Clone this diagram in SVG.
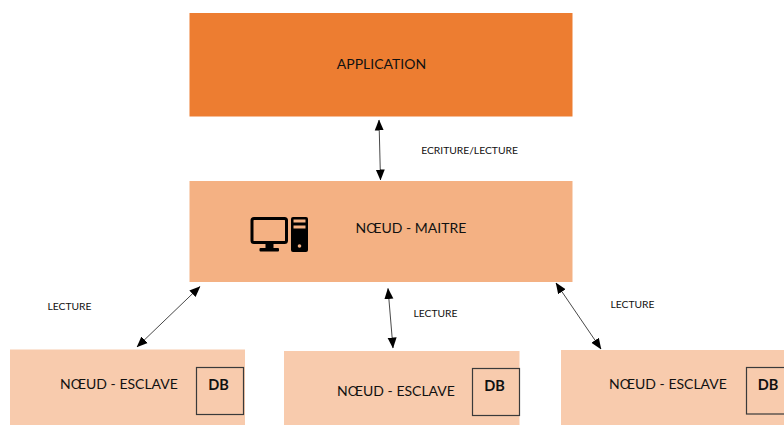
<svg xmlns="http://www.w3.org/2000/svg" width="784" height="425" viewBox="0 0 784 425">
<style>
text{font-family:"Lato","Carlito","Open Sans",sans-serif;fill:#111;text-anchor:middle}
.t{font-size:14px}
.s{font-size:10.300px}
.db{font-size:14.500px;font-weight:700}
.slave{fill:#f8cbad}
.box{fill:none;stroke:#3a3a3a;stroke-width:1.200}
.c{stroke:#333;stroke-width:.9;fill:none;marker-start:url(#a);marker-end:url(#a)}
</style>
<defs>
<marker id="a" viewBox="0 0 11 10" refX="10.500" refY="5" markerUnits="userSpaceOnUse" markerWidth="11" markerHeight="10" orient="auto-start-reverse"><path d="M0 0.500L11 5L0 9.500z" fill="#000"/></marker>
</defs>
<rect width="784" height="425" fill="#fff"/>
<g id="application"><rect x="189.500" y="13" width="383" height="103.500" fill="#ed7d31"/><text class="t" x="381.500" y="68.500">APPLICATION</text></g>
<g id="maitre"><rect x="189.500" y="181" width="383" height="101" fill="#f4b183"/><text class="t" x="411" y="233">NŒUD - MAITRE</text>
<g id="icon"><rect x="252" y="218.500" width="34.500" height="24" rx="2" fill="none" stroke="#000" stroke-width="3"/><rect x="265.500" y="243" width="8" height="6" fill="#000"/><rect x="259.500" y="248" width="19.500" height="3.500" rx="1" fill="#000"/>
<rect x="291" y="217" width="17" height="35" rx="2" fill="#000"/><rect x="293.500" y="219.500" width="12" height="3" fill="#f4b183"/><rect x="293.500" y="225.500" width="12" height="3" fill="#f4b183"/><circle cx="299.500" cy="246" r="1.800" fill="#f4b183"/></g></g>
<g id="esclave1"><rect class="slave" x="10" y="349.500" width="235" height="76"/><text class="t" x="119" y="389">NŒUD - ESCLAVE</text><rect class="box" x="196.500" y="367.500" width="47" height="47"/><text class="db" x="218.500" y="390">DB</text></g>
<g id="esclave2"><rect class="slave" x="284" y="351" width="235.500" height="74"/><text class="t" x="396" y="396">NŒUD - ESCLAVE</text><rect class="box" x="472.500" y="368.500" width="47" height="47"/><text class="db" x="494.500" y="391">DB</text></g>
<g id="esclave3"><rect class="slave" x="561" y="350" width="223" height="75"/><text class="t" x="668" y="389">NŒUD - ESCLAVE</text><rect class="box" x="746.500" y="367.500" width="47" height="46.500"/><text class="db" x="768" y="390">DB</text></g>
<g id="connectors">
<line class="c" x1="379" y1="120" x2="380.500" y2="180"/>
<line class="c" x1="200" y1="286.500" x2="137" y2="347"/>
<line class="c" x1="388" y1="288.500" x2="393" y2="348"/>
<line class="c" x1="556" y1="283" x2="601" y2="349"/>
</g>
<g id="labels">
<text class="s" x="469.500" y="153.500">ECRITURE/LECTURE</text>
<text class="s" x="69.500" y="310">LECTURE</text>
<text class="s" x="435.500" y="317">LECTURE</text>
<text class="s" x="632.500" y="307.500">LECTURE</text>
</g>
</svg>
